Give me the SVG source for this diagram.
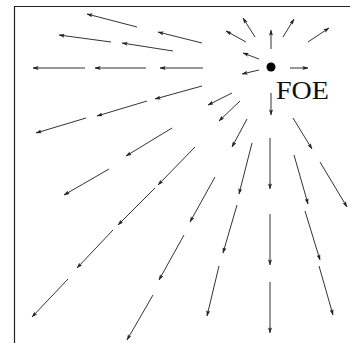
<svg xmlns="http://www.w3.org/2000/svg" width="350" height="343" viewBox="0 0 350 343">
<style>
.a{stroke:#333;stroke-width:1;fill:none;marker-end:url(#ah)}
.frame{stroke:#222;stroke-width:1.2;fill:none}
.lbl{font-family:"Liberation Serif","Times New Roman",serif;font-size:26px;fill:#111}
</style>
<defs>
<marker id="ah" viewBox="0 0 6 4" markerWidth="6" markerHeight="4" refX="5.6" refY="2" orient="auto" markerUnits="userSpaceOnUse">
<path d="M0,0 L6,2 L0,4 L1.3,2 z" fill="#222"/>
</marker>
</defs>
<rect width="350" height="343" fill="#fff"/>
<path class="frame" d="M14.5,343 V6.5 H350"/>
<g id="connectors">
<line class="a" x1="137" y1="27" x2="87" y2="14"/>
<line class="a" x1="111" y1="42" x2="59" y2="35"/>
<line class="a" x1="173" y1="51" x2="122" y2="43"/>
<line class="a" x1="202" y1="43" x2="158" y2="32"/>
<line class="a" x1="85" y1="68" x2="33" y2="68"/>
<line class="a" x1="146" y1="68" x2="95" y2="68"/>
<line class="a" x1="203" y1="68" x2="160" y2="68"/>
<line class="a" x1="202" y1="86" x2="155" y2="99"/>
<line class="a" x1="147" y1="101" x2="97" y2="116"/>
<line class="a" x1="86" y1="118" x2="36" y2="133"/>
<line class="a" x1="255" y1="37" x2="243" y2="18"/>
<line class="a" x1="246" y1="42" x2="226" y2="31"/>
<line class="a" x1="271" y1="49" x2="271" y2="30"/>
<line class="a" x1="283" y1="37" x2="294" y2="19"/>
<line class="a" x1="308" y1="42" x2="329" y2="28"/>
<line class="a" x1="259" y1="59" x2="243" y2="53"/>
<line class="a" x1="259" y1="70" x2="242" y2="74"/>
<line class="a" x1="290" y1="68" x2="308" y2="68"/>
<line class="a" x1="271" y1="93" x2="271" y2="115"/>
<line class="a" x1="232" y1="93" x2="208" y2="105"/>
<line class="a" x1="240" y1="101" x2="219" y2="121"/>
<line class="a" x1="247" y1="119" x2="232" y2="147"/>
<line class="a" x1="293" y1="118" x2="312" y2="149"/>
<line class="a" x1="270" y1="138" x2="270" y2="189"/>
<line class="a" x1="252" y1="143" x2="239" y2="194"/>
<line class="a" x1="294" y1="155" x2="308" y2="204"/>
<line class="a" x1="320" y1="162" x2="347" y2="207"/>
<line class="a" x1="195" y1="147" x2="158" y2="185"/>
<line class="a" x1="172" y1="128" x2="126" y2="156"/>
<line class="a" x1="109" y1="169" x2="64" y2="195"/>
<line class="a" x1="215" y1="177" x2="190" y2="222"/>
<line class="a" x1="155" y1="188" x2="118" y2="225"/>
<line class="a" x1="237" y1="205" x2="223" y2="253"/>
<line class="a" x1="270" y1="214" x2="270" y2="265"/>
<line class="a" x1="305" y1="211" x2="320" y2="260"/>
<line class="a" x1="184" y1="235" x2="159" y2="280"/>
<line class="a" x1="113" y1="230" x2="77" y2="268"/>
<line class="a" x1="68" y1="279" x2="32" y2="317"/>
<line class="a" x1="153" y1="295" x2="127" y2="340"/>
<line class="a" x1="219" y1="266" x2="207" y2="316"/>
<line class="a" x1="270" y1="282" x2="270" y2="333"/>
<line class="a" x1="319" y1="266" x2="333" y2="315"/>
</g>
<g id="foe">
<circle cx="271" cy="67" r="4.5" fill="#000"/>
<text class="lbl" x="276" y="99" textLength="53" lengthAdjust="spacingAndGlyphs">FOE</text>
</g>
</svg>
